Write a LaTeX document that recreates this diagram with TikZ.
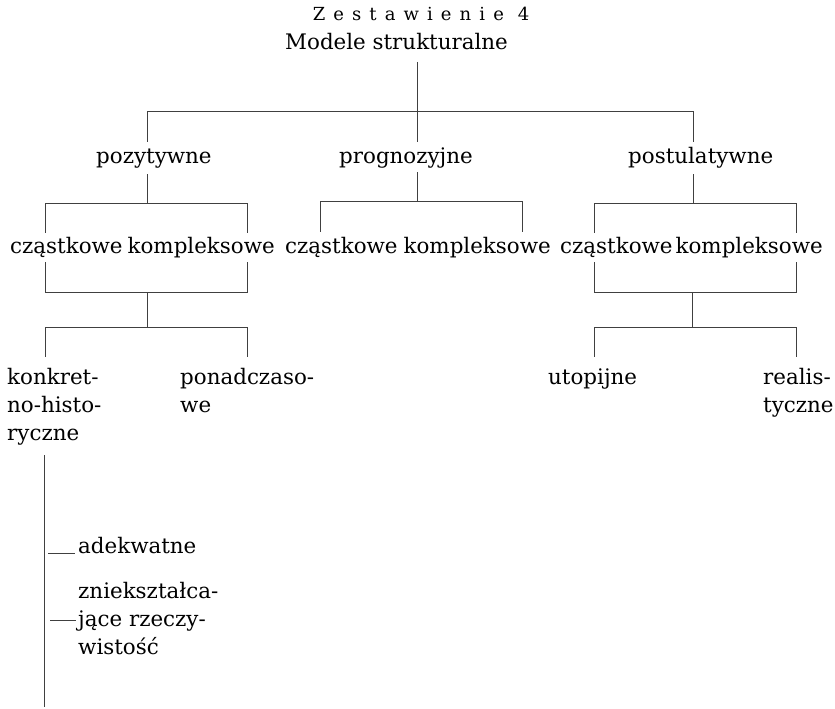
\documentclass[tikz,border=0pt]{standalone}
\usepackage{fontspec}
\setmainfont{DejaVu Serif}
\newfontfamily\titlefont[LetterSpace=45]{DejaVu Serif}
\begin{document}
\begin{tikzpicture}[x=1pt,y=-1pt,
  txt/.style={inner sep=0pt, anchor=base west, font=\fontsize{21.4}{24}\selectfont},
  txtr/.style={txt, anchor=base east},
  ln/.style={line width=0.7pt, draw=black!75}]
\useasboundingbox (0,0) rectangle (835,709);
% texts
\node[inner sep=0pt, anchor=base, font=\titlefont\fontsize{18}{21}\selectfont] (title) at (421,21) {Zestawienie 4};
\node[txt] (modele) at (285,50) {Modele strukturalne};
\node[txt] (pozyt) at (96,163) {pozytywne};
\node[txt] (prog) at (339,163) {prognozyjne};
\node[txt] (postul) at (628,163) {postulatywne};
\node[txt] (cz1) at (10,253) {cząstkowe};
\node[txtr] (ko1) at (275,253) {kompleksowe};
\node[txt] (cz2) at (285,253) {cząstkowe};
\node[txtr] (ko2) at (551,253) {kompleksowe};
\node[txt] (cz3) at (560,253) {cząstkowe};
\node[txtr] (ko3) at (823,253) {kompleksowe};
\node[txt] (kh1) at (7,384) {konkret-};
\node[txt] (kh2) at (7,412) {no-histo-};
\node[txt] (kh3) at (7,440) {ryczne};
\node[txt] (pc1) at (180,384) {ponadczaso-};
\node[txt] (pc2) at (180,412) {we};
\node[txt] (uto) at (548,384) {utopijne};
\node[txt] (re1) at (763,384) {realis-};
\node[txt] (re2) at (763,412) {tyczne};
\node[txt] (ade) at (78,553) {adekwatne};
\node[txt] (zn1) at (78,598) {zniekształca-};
\node[txt] (zn2) at (78,626) {jące rzeczy-};
\node[txt] (zn3) at (78,654) {wistość};
% level 1 bracket
\coordinate (r0) at (417,62);
\coordinate (r1) at (417,111);
\coordinate (bl) at (147,111);
\coordinate (br) at (693,111);
\draw[ln] (r0) -- (r1);
\draw[ln] (bl) -- (br);
\draw[ln] (bl) -- ++(0,31);
\draw[ln] (r1) -- ++(0,31);
\draw[ln] (br) -- ++(0,31);
% pozytywne
\coordinate (p0) at (147,174);
\coordinate (p1) at (147,203);
\draw[ln] (p0) -- (p1);
\draw[ln] (45,203) coordinate (pl) -- (247,203) coordinate (pr);
\draw[ln] (pl) -- ++(0,30);
\draw[ln] (pr) -- ++(0,30);
\draw[ln] (45,262) coordinate (ql) -- (45,292) coordinate (qbl) -- (247,292) coordinate (qbr) -- (247,262) coordinate (qr);
\draw[ln] (147,292) coordinate (q0) -- (147,327) coordinate (q1);
\draw[ln] (45,327) coordinate (sl) -- (247,327) coordinate (sr);
\draw[ln] (sl) -- ++(0,30);
\draw[ln] (sr) -- ++(0,30);
% prognozyjne
\draw[ln] (417,172) coordinate (g0) -- (417,201) coordinate (g1);
\draw[ln] (320,201) coordinate (gl) -- (522,201) coordinate (gr);
\draw[ln] (gl) -- ++(0,31);
\draw[ln] (gr) -- ++(0,31);
% postulatywne
\draw[ln] (693,174) coordinate (t0) -- (693,203) coordinate (t1);
\draw[ln] (594,203) coordinate (tl) -- (796,203) coordinate (tr);
\draw[ln] (tl) -- ++(0,30);
\draw[ln] (tr) -- ++(0,30);
\draw[ln] (594,262) coordinate (ul) -- (594,292) coordinate (ubl) -- (796,292) coordinate (ubr) -- (796,262) coordinate (ur);
\draw[ln] (692,292) coordinate (u0) -- (692,327) coordinate (u1);
\draw[ln] (594,327) coordinate (vl) -- (796,327) coordinate (vr);
\draw[ln] (vl) -- ++(0,30);
\draw[ln] (vr) -- ++(0,30);
% konkretno-historyczne
\draw[ln] (44,455) coordinate (k0) -- (44,707) coordinate (k1);
\draw[ln] (48,553) coordinate (a0) -- (75,553) coordinate (a1);
\draw[ln] (50,620) coordinate (z0) -- (76,620) coordinate (z1);
\end{tikzpicture}
\end{document}
